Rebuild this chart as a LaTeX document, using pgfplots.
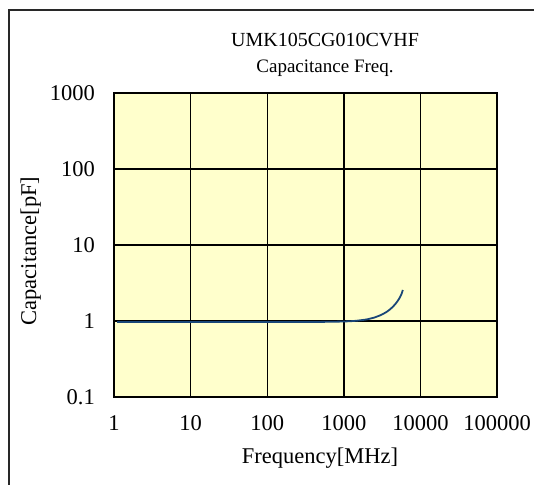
\documentclass[border=0pt]{standalone}
\usepackage{pgfplots}
\pgfplotsset{compat=1.18}
\usepackage{fontspec}
\setmainfont{Liberation Serif}
\definecolor{plotbg}{RGB}{255,255,204}
\definecolor{curve}{RGB}{25,70,120}
\definecolor{frame}{RGB}{40,40,40}
\begin{document}
\begin{tikzpicture}
\path[use as bounding box] (0pt,0pt) rectangle (534pt,-484pt);
\draw[frame, line width=2pt] (8.5pt,-490pt) -- (8.5pt,-10pt) -- (540pt,-10pt);
\begin{axis}[
  at={(114pt,-397pt)}, anchor=south west,
  scale only axis, width=383pt, height=304pt,
  xmode=log, ymode=log,
  xmin=1, xmax=100000, ymin=0.1, ymax=1000,
  xtick={1,10,100,1000,10000,100000},
  xticklabels={1,10,100,1000,10000,100000},
  ytick={0.1,1,10,100,1000},
  yticklabels={0.1,1,10,100,1000},
  minor xtick={}, minor ytick={},
  major tick length=0pt, minor tick length=0pt,
  axis background/.style={fill=plotbg},
  axis line style={line width=2.2pt, black},
  grid=major,
  major grid style={line width=1.4pt, black},
  xticklabel style={font=\fontsize{22.5}{26}\selectfont, anchor=base, inner sep=0pt, yshift=-33pt},
  yticklabel style={font=\fontsize{22.5}{26}\selectfont, anchor=east, inner sep=0pt, xshift=-19pt},
  xminorgrids=false, yminorgrids=false,
  clip=true,
]
\addplot[curve, line width=1.8pt, no marks] coordinates {
(1.1,0.97) (10,0.97) (100,0.97) (500,0.973) (800,0.98) (1000,0.985) (1250,0.995) (1500,1.01) (1750,1.03) (2000,1.05)
(2250,1.08) (2500,1.11) (2750,1.15) (3000,1.19) (3250,1.24) (3500,1.29) (3750,1.35) (4000,1.42) (4250,1.5) (4500,1.59) (4750,1.69) (5000,1.81) (5250,1.95) (5500,2.12) (5700,2.3) (5900,2.56)
};
\end{axis}
\node[anchor=base, font=\fontsize{20}{23}\selectfont] at (325pt,-47pt) {UMK105CG010CVHF};
\node[anchor=base, font=\fontsize{19}{22}\selectfont] at (325pt,-73pt) {Capacitance Freq.};
\node[anchor=base, font=\fontsize{22.5}{26}\selectfont] at (320pt,-463pt) {Frequency[MHz]};
\node[anchor=base, rotate=90, font=\fontsize{22.5}{26}\selectfont] at (36pt,-251pt) {Capacitance[pF]};
\end{tikzpicture}
\end{document}
